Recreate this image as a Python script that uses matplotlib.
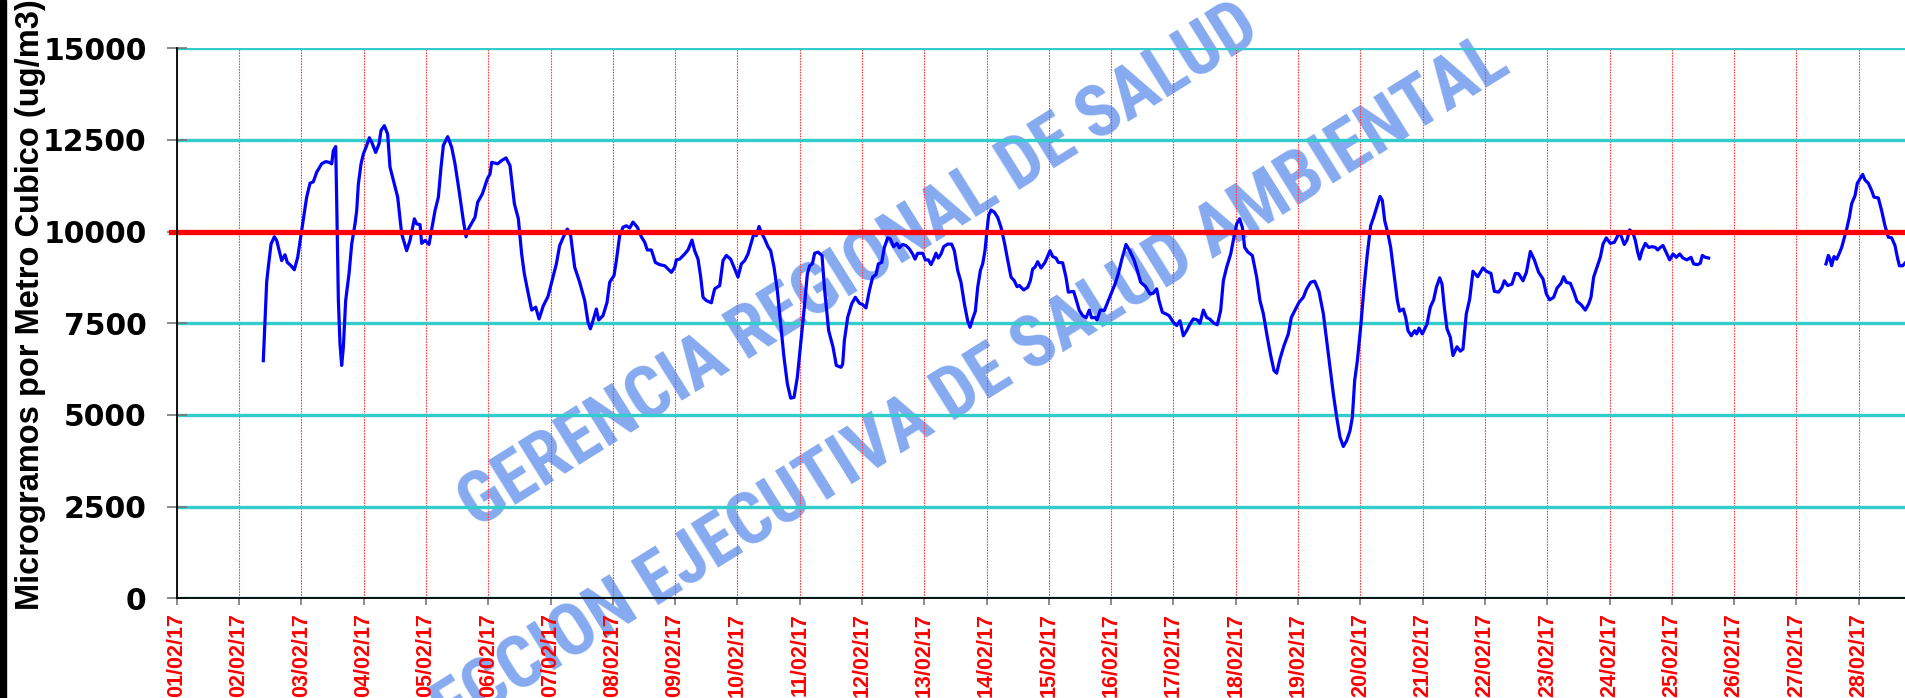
import matplotlib
matplotlib.use('Agg')
import matplotlib.pyplot as plt
from matplotlib.patches import Rectangle

plt.rcParams['font.family'] = ['Liberation Sans', 'DejaVu Sans']

# ---------------- data ----------------
day_labels = ["01/02/17", "02/02/17", "03/02/17", "04/02/17", "05/02/17", "06/02/17",
              "07/02/17", "08/02/17", "09/02/17", "10/02/17", "11/02/17", "12/02/17",
              "13/02/17", "14/02/17", "15/02/17", "16/02/17", "17/02/17", "18/02/17",
              "19/02/17", "20/02/17", "21/02/17", "22/02/17", "23/02/17", "24/02/17",
              "25/02/17", "26/02/17", "27/02/17", "28/02/17"]
day_ticks = list(range(len(day_labels)))
y_ticks = [0, 2500, 5000, 7500, 10000, 12500, 15000]
LIMIT = 10000

# segment 1 (days since 01/02 00:00, ug/m3)
t1 = [1.39, 1.444, 1.47, 1.514, 1.567, 1.605, 1.685, 1.738, 1.776, 1.835, 1.888, 1.942,
      2.006, 2.086, 2.14, 2.193, 2.247, 2.327, 2.391, 2.445, 2.488, 2.514, 2.552, 2.568,
      2.595, 2.621, 2.648, 2.675, 2.712, 2.766, 2.809, 2.862, 2.889, 2.916, 2.959, 2.996,
      3.039, 3.092, 3.13, 3.194, 3.247, 3.28, 3.333, 3.386, 3.424, 3.494, 3.547, 3.611,
      3.691, 3.745, 3.815, 3.852, 3.906, 3.932, 3.986, 4.05, 4.093, 4.146, 4.2, 4.243,
      4.28, 4.35, 4.414, 4.467, 4.532, 4.601, 4.644, 4.681, 4.788, 4.831, 4.906, 4.986,
      5.029, 5.056, 5.152, 5.216, 5.286, 5.35, 5.42, 5.484, 5.537, 5.58, 5.644, 5.698,
      5.762, 5.816, 5.885, 5.96,
      6.024, 6.094, 6.147, 6.217, 6.27, 6.324, 6.388, 6.468, 6.549, 6.602, 6.64, 6.682,
      6.736, 6.773, 6.843, 6.907, 6.95, 7.019, 7.057, 7.11, 7.164, 7.217, 7.271, 7.324,
      7.394, 7.458, 7.512, 7.554, 7.619, 7.683, 7.752, 7.833, 7.886, 7.94, 7.993, 8.02,
      8.073, 8.154, 8.207, 8.271, 8.314, 8.368, 8.411, 8.448, 8.501, 8.582, 8.635, 8.716,
      8.769, 8.822, 8.892, 8.956, 9.01, 9.063, 9.117, 9.17, 9.224, 9.267, 9.304, 9.347,
      9.384, 9.438, 9.491, 9.534, 9.588, 9.641, 9.695, 9.748, 9.802, 9.855, 9.909, 9.962,
      10.016, 10.069, 10.123, 10.16, 10.203, 10.24, 10.294, 10.358, 10.401, 10.465, 10.535,
      10.588, 10.663,
      10.69, 10.717, 10.77, 10.834, 10.893, 10.957, 11.011, 11.064, 11.118, 11.171, 11.225,
      11.262, 11.316, 11.359, 11.412, 11.455, 11.508, 11.562, 11.599, 11.653, 11.706, 11.76,
      11.813, 11.851, 11.894, 11.974, 12.017, 12.065, 12.108, 12.15, 12.188, 12.225, 12.268,
      12.311, 12.375, 12.439, 12.482, 12.536, 12.589, 12.643, 12.696, 12.734, 12.776, 12.819,
      12.857, 12.9, 12.937, 12.974, 13.006, 13.033, 13.071, 13.124, 13.178, 13.231, 13.285,
      13.338, 13.392, 13.445, 13.488, 13.525, 13.595, 13.659, 13.702, 13.739, 13.777, 13.82,
      13.873, 13.937, 14.018, 14.06, 14.114, 14.151, 14.221, 14.274, 14.312, 14.397, 14.435,
      14.488, 14.542, 14.596, 14.649, 14.686, 14.74, 14.772, 14.825, 14.89, 14.943, 14.997,
      15.061, 15.114, 15.168, 15.237, 15.291, 15.366,
      15.419, 15.473, 15.553, 15.623, 15.676, 15.73, 15.767, 15.821, 15.874, 15.928, 15.997,
      16.051, 16.104, 16.158, 16.211, 16.265, 16.318, 16.383, 16.425, 16.479, 16.532, 16.586,
      16.65, 16.703, 16.757, 16.8, 16.853, 16.918, 16.96, 17.014, 17.062, 17.105, 17.142,
      17.196, 17.265, 17.335, 17.388, 17.442, 17.506, 17.56, 17.613, 17.656, 17.709, 17.773,
      17.843, 17.891, 17.961, 18.014, 18.084, 18.137, 18.202, 18.266, 18.335, 18.405, 18.458,
      18.512, 18.566, 18.619, 18.673, 18.726, 18.78, 18.833, 18.871, 18.908, 18.951, 19.004,
      19.058, 19.111, 19.165, 19.208, 19.261, 19.315, 19.352, 19.39, 19.443, 19.486, 19.54,
      19.593, 19.63, 19.689, 19.727, 19.764, 19.817, 19.871, 19.903, 19.941, 19.994, 20.069,
      20.122, 20.176, 20.219, 20.272, 20.31, 20.347, 20.39, 20.443, 20.486, 20.55, 20.604,
      20.647, 20.7, 20.754, 20.807, 20.882, 20.968, 21.021, 21.096, 21.15, 21.219, 21.273,
      21.31, 21.364, 21.433, 21.487, 21.54, 21.61, 21.664, 21.728, 21.792, 21.861, 21.931,
      21.985, 22.038, 22.102, 22.156, 22.22, 22.263, 22.305, 22.37, 22.423, 22.477, 22.541,
      22.61, 22.664, 22.701, 22.744, 22.798, 22.851, 22.894, 22.947, 23.012, 23.076, 23.119,
      23.156, 23.183, 23.236, 23.279, 23.322, 23.376, 23.413, 23.451, 23.483, 23.52, 23.574,
      23.627, 23.681, 23.734, 23.772, 23.814, 23.857, 23.895, 23.964, 24.018, 24.071, 24.125,
      24.178, 24.242, 24.306, 24.349, 24.413, 24.456, 24.488, 24.536, 24.59]
v1 = [6480, 8620, 9030, 9660, 9860, 9760, 9210, 9370, 9160, 9070, 8960, 9300,
      10030, 10940, 11320, 11360, 11620, 11850, 11910, 11890, 11850, 12210, 12320, 10850,
      8120, 6940, 6350, 6850, 8120, 8850, 9660, 10210, 10570, 11300, 11850, 12120,
      12300, 12560, 12440, 12160, 12390, 12760, 12890, 12660, 11760, 11300, 10940, 9940,
      9480, 9760, 10350, 10210, 10190, 9680, 9760, 9650, 10070, 10570, 10940, 11760,
      12350, 12590, 12300, 11850, 11120, 10300, 9860, 10070, 10390, 10800, 11030, 11440,
      11570, 11890, 11850, 11940, 12010, 11800, 10760, 10350, 9390, 8850, 8300, 7860,
      7940, 7620, 7980, 8230,
      8660, 9120, 9620, 9890, 10070, 9890, 9030, 8620, 8120, 7530, 7350, 7570,
      7890, 7590, 7710, 8070, 8620, 8800, 9210, 9890, 10120, 10160, 10100, 10260,
      10120, 9860, 9710, 9500, 9500, 9160, 9100, 9070, 8980, 8890, 9030, 9230,
      9250, 9390, 9500, 9770, 9480, 9250, 8760, 8210, 8120, 8060, 8440, 8530,
      9210, 9350, 9250, 8980, 8760, 9120, 9210, 9390, 9710, 9960, 9890, 10140,
      9980, 9800, 9590, 9480, 9030, 8390, 7480, 6570, 5850, 5460, 5480, 6030,
      6940, 7850, 8850, 9070, 9120, 9410, 9440, 9350, 8390, 7300, 6850,
      6350, 6300,
      6390, 7030, 7660, 8030, 8210, 8050, 8010, 7920, 8390, 8760, 8830,
      9120, 9160, 9570, 9830, 9800, 9590, 9680, 9560, 9650, 9620, 9530,
      9390, 9250, 9410, 9410, 9230, 9230, 9100, 9250, 9410, 9280, 9390,
      9590, 9660, 9660, 9480, 8940, 8620, 8030, 7570, 7390, 7620, 7830,
      8480, 8940, 9120, 9480, 10030, 10440, 10590, 10530, 10390, 10120, 9710,
      9230, 8760, 8660, 8500, 8530, 8410, 8480, 8660, 8980, 9030, 9180,
      9010, 9160, 9480, 9320, 9280, 9160, 9150, 8760, 8350, 8370, 8160,
      7850, 7710, 7650, 7860, 7650, 7660, 7590, 7860, 7850, 8070, 8300,
      8570, 8850, 9230, 9650, 9500, 9230,
      8940, 8620, 8500, 8300, 8320, 8440, 8120, 7800, 7760, 7710, 7530,
      7440, 7570, 7160, 7300, 7480, 7620, 7590, 7500, 7860, 7660, 7610,
      7500, 7460, 7850, 8660, 9030, 9390, 9760, 10210, 10350, 10120, 9570,
      9440, 9350, 8760, 8120, 7760, 7120, 6620, 6210, 6140, 6530, 6890,
      7210, 7660, 7890, 8070, 8210, 8440, 8620, 8650, 8370, 7760, 7030,
      6300, 5570, 4940, 4390, 4140, 4300, 4570, 4940, 5940, 6480, 7390,
      8480, 9390, 10160, 10370, 10660, 10960, 10850, 10300, 9940, 9570, 8850,
      8120, 7830, 7890, 7660, 7300, 7160, 7300, 7210, 7370, 7210, 7480,
      7940, 8140, 8480, 8740, 8570, 7940, 7350, 7120, 6620, 6860, 6740,
      6800, 7760, 8160, 8920, 8770, 9010, 8920, 8860, 8370, 8350, 8480,
      8660, 8530, 8570, 8860, 8850, 8660, 8890, 9460, 9230, 8890, 8710,
      8300, 8140, 8210, 8460, 8590, 8770, 8620, 8590, 8370, 8100, 8010,
      7860, 8030, 8210, 8760, 9030, 9300, 9660, 9830, 9680, 9710, 9850,
      9980, 9890, 9650, 9770, 10050, 9960, 9760, 9440, 9250, 9480, 9680,
      9570, 9590, 9570, 9500, 9570, 9620, 9480, 9230, 9390, 9300, 9390,
      9280, 9230, 9300, 9120, 9100, 9140, 9350, 9300, 9280]

# segment 2
t2 = [26.473, 26.511, 26.538, 26.564, 26.602, 26.645, 26.682, 26.725, 26.762, 26.805,
      26.848, 26.885, 26.939, 26.976, 27.019, 27.062, 27.099, 27.153, 27.206, 27.244,
      27.313, 27.367, 27.42, 27.474, 27.528, 27.581, 27.619, 27.651, 27.704, 27.741]
v2 = [9120, 9350, 9250, 9070, 9320, 9250, 9390, 9570, 9800, 10070,
      10390, 10760, 10980, 11320, 11440, 11560, 11410, 11320, 11120, 10940,
      10920, 10570, 10160, 9850, 9830, 9620, 9300, 9070, 9070, 9140]

# ---------------- figure ----------------
W, H = 1905, 698
fig = plt.figure(figsize=(W / 100, H / 100), dpi=100)
fig.patch.set_facecolor('white')
renderer = fig.canvas.get_renderer()

# watermark (behind everything), sized so its length matches the reference
wm_color = '#86AAF0'
wm_family = ['Roboto Condensed', 'Noto Sans Condensed', 'Liberation Sans Narrow',
             'DejaVu Sans Condensed', 'Roboto']
wm_angle = 32
wm1 = fig.text(860 / W, 1 - 267 / H, "GERENCIA REGIONAL DE SALUD",
               rotation=0, rotation_mode='anchor', ha='center', va='center',
               fontsize=50, fontweight='bold', color=wm_color, family=wm_family,
               zorder=-5)
wm2 = fig.text(929 / W, 1 - 414 / H, "DIRECCION EJECUTIVA DE SALUD AMBIENTAL",
               rotation=0, rotation_mode='anchor', ha='center', va='center',
               fontsize=50, fontweight='bold', color=wm_color, family=wm_family,
               zorder=-5)
w1 = wm1.get_window_extent(renderer).width
fs = 50 * 930.0 / w1
for t in (wm1, wm2):
    t.set_fontsize(fs)
    t.set_rotation(wm_angle)

px_day = 62.3
ax = fig.add_axes([176.7 / W, 99.7 / H, 28 * px_day / W, 550 / H])
ax.patch.set_alpha(0)
ax.set_xlim(0, 28)
ax.set_ylim(0, 15000)

ax.set_axisbelow(True)
ax.yaxis.grid(True, color='#33CCCC', lw=2.4)
ax.xaxis.grid(True, color='#FF3B3B', lw=0.8, ls=(0, (1.5, 1.0)))

ax.plot(t1, v1, color='#0000FF', lw=2.3, zorder=2)
ax.plot(t2, v2, color='#0000FF', lw=2.3, zorder=2)
ax.axhline(LIMIT, xmin=-5.7 / (28 * px_day), xmax=1, color='#FF0000', lw=3.8,
           clip_on=False, zorder=3)

for s in ['top', 'right']:
    ax.spines[s].set_visible(False)
for s in ['left', 'bottom']:
    ax.spines[s].set_color('black')
    ax.spines[s].set_linewidth(1.3)
    ax.spines[s].set_zorder(4)

ax.set_yticks(y_ticks, labels=[str(v) for v in y_ticks], fontsize=21.5,
              fontweight='bold', family=['DejaVu Sans'])
ax.set_xticks(day_ticks, labels=day_labels, rotation=90, color='#FF0000',
              fontsize=15.5, fontweight='bold')
ax.tick_params(axis='y', direction='inout', length=14.4, width=1.2, color='#777777',
               pad=14.4)
ax.tick_params(axis='x', direction='out', length=5, width=1.2, color='#777777', pad=5.8)

fig.text(15 / W, 1 - 305 / H, "Microgramos por Metro Cubico (ug/m3)", rotation=90,
         ha='left', va='center', fontsize=23.5, fontweight='bold', color='black')

# left border bar
fig.add_artist(Rectangle((0, 0), 6 / W, 1, transform=fig.transFigure,
                         color='black', zorder=10))

fig.savefig('out.png', dpi=100)
